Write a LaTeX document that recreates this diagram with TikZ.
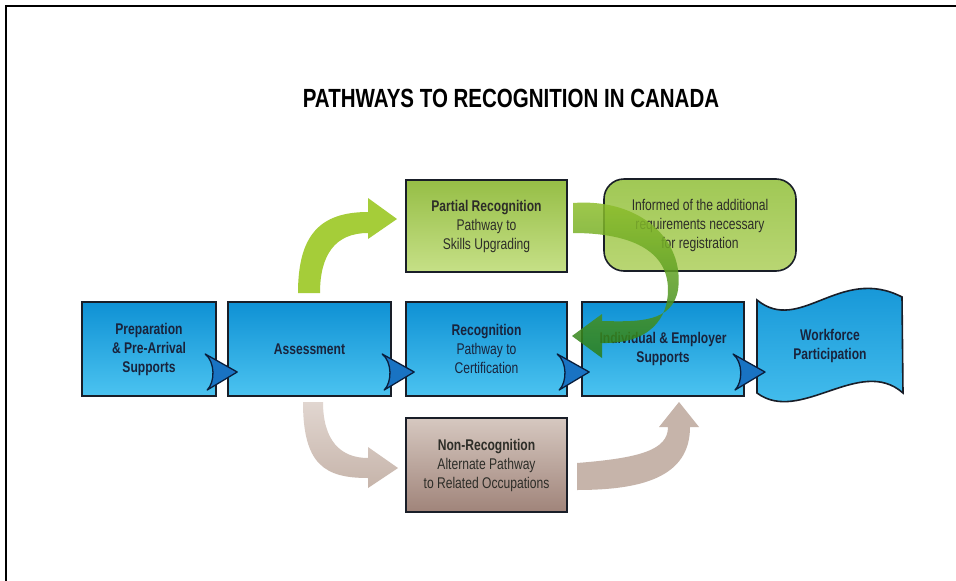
\documentclass[tikz,border=0pt]{standalone}
\usepackage{fontspec}
\setmainfont[FakeStretch=0.78]{Liberation Sans}
\usetikzlibrary{calc}
\definecolor{boxline}{RGB}{25,30,40}
\definecolor{bluetop}{RGB}{15,145,212}
\definecolor{bluebot}{RGB}{75,195,240}
\definecolor{navytext}{RGB}{25,35,60}
\definecolor{greentop}{RGB}{150,190,70}
\definecolor{greenbot}{RGB}{198,224,135}
\definecolor{inftop}{RGB}{160,200,85}
\definecolor{infbot}{RGB}{185,214,115}
\definecolor{tantop}{RGB}{214,200,192}
\definecolor{tanbot}{RGB}{160,132,122}
\definecolor{limegreen}{RGB}{165,205,57}
\definecolor{dgreenA}{RGB}{145,192,45}
\definecolor{dgreenB}{RGB}{40,125,25}
\definecolor{tanarrow}{RGB}{198,180,170}
\definecolor{tanlight}{RGB}{225,214,208}
\definecolor{chevfill}{RGB}{25,115,195}
\definecolor{chevline}{RGB}{10,30,60}
\definecolor{graytext}{RGB}{45,45,40}
\tikzset{
  boxbase/.style={draw=boxline, line width=1.6pt, align=center, inner sep=0pt,
    font=\fontsize{15.5}{19}\selectfont},
  bluebox/.style={boxbase, top color=bluetop, bottom color=bluebot, text=navytext,
    minimum height=94pt},
  greenbox/.style={boxbase, top color=greentop, bottom color=greenbot, text=graytext},
  infobox/.style={boxbase, top color=inftop, bottom color=infbot, text=graytext,
    rounded corners=20pt},
  tanbox/.style={boxbase, top color=tantop, bottom color=tanbot, text=graytext},
  chev/.style={fill=chevfill, draw=chevline, line width=1.3pt, line join=round}
}
\newcommand\mychevron[1]{%
  \begin{scope}[shift={#1}]
    \path[chev] (-32,-18) .. controls (-16,-9) .. (0,0) .. controls (-15,9) .. (-30,18)
      .. controls (-22,10) and (-22,-10) .. (-32,-18) -- cycle;
  \end{scope}}
\begin{document}
\begin{tikzpicture}[x=1pt,y=-1pt]
\useasboundingbox (0,0) rectangle (956,581);
\fill[white] (0,0) rectangle (956,581);
\draw[line width=2pt] (6,581) -- (6,5.5) -- (956,5.5);

\node[font=\fontsize{26.3}{30}\selectfont\bfseries] (title) at (511,98)
  {PATHWAYS TO RECOGNITION IN CANADA};

% main row
\node[bluebox, minimum width=134pt] (prep) at (149,349)
  {\textbf{Preparation}\\\textbf{\& Pre-Arrival}\\\textbf{Supports}};
\node[bluebox, minimum width=163pt] (assess) at (309.5,349) {\textbf{Assessment}};
\node[bluebox, minimum width=161pt] (recog) at (486.5,349)
  {\textbf{Recognition}\\Pathway to\\Certification};
\node[bluebox, minimum width=162pt] (indiv) at (663,349)
  {\textbf{Individual \& Employer}\\\textbf{Supports}};

% workforce wave
\path[draw=boxline, line width=1.6pt, top color=bluetop, bottom color=bluebot]
  (757,300) .. controls (800,335) and (840,265) .. (902,297) -- (903,393)
  .. controls (860,355) and (800,425) .. (757,393) -- cycle;
\node[text=navytext, align=center, font=\fontsize{15.5}{19}\selectfont] (work) at (830,346)
  {\textbf{Workforce}\\\textbf{Participation}};
\coordinate (workleft) at (757,349);

% upper and lower boxes
\node[greenbox, minimum width=161pt, minimum height=92pt] (partial) at (486.5,226)
  {\textbf{Partial Recognition}\\Pathway to\\Skills Upgrading};
\node[infobox, minimum width=192pt, minimum height=92pt] (inform) at (700,225)
  {Informed of the additional\\requirements necessary\\for registration};
\node[tanbox, minimum width=161pt, minimum height=94pt] (nonrec) at (486.5,465)
  {\textbf{Non-Recognition}\\Alternate Pathway\\to Related Occupations};

% chevrons
\mychevron{($(assess.west)+(10,23)$)}
\mychevron{($(recog.west)+(9,23)$)}
\mychevron{($(indiv.west)+(8,23)$)}
\mychevron{($(workleft)+(8,23)$)}

% light green arrow: assessment -> partial
\fill[limegreen] (298,293) .. controls (298,235) and (320,212) .. (368,212)
  -- (368,198) -- (397,219) -- (368,239) -- (368,233)
  .. controls (335,233) and (320,255) .. (320,293) -- cycle;

% tan arrows
\shade[top color=tanlight, bottom color=tanarrow]
  (303,402) .. controls (303,465) and (325,478) .. (368,478)
  -- (368,488) -- (398,468) -- (368,447) -- (368,458)
  .. controls (340,458) and (323,440) .. (323,402) -- cycle;
\fill[tanarrow] (577,463) .. controls (640,458) and (668,450) .. (668,427)
  -- (659,427) -- (679,402) -- (699,427) -- (690,427)
  .. controls (690,478) and (640,490) .. (577,490) -- cycle;

% dark green arrow: partial -> recognition
\shade[top color=dgreenA, bottom color=dgreenB, fill opacity=0.85]
  (573,203) .. controls (640,198) and (685,240) .. (678,290)
  .. controls (672,322) and (640,322) .. (602,321)
  -- (602,314) -- (572,336) -- (602,358) -- (602,343)
  .. controls (650,344) and (668,318) .. (668,290)
  .. controls (668,250) and (630,233) .. (573,233) -- cycle;
\end{tikzpicture}
\end{document}
